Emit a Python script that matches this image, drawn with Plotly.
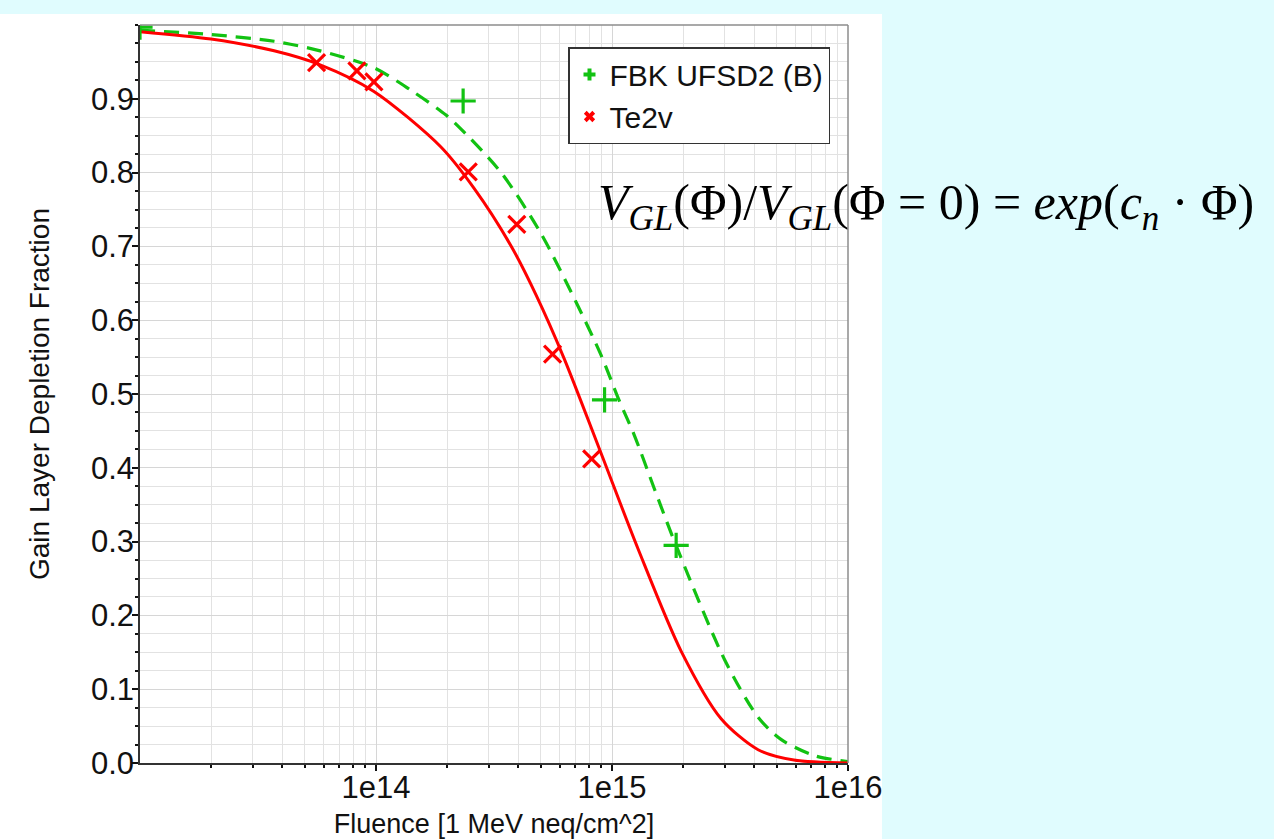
import plotly.graph_objects as go

# ---- data ----
fbk_x = [1e13, 2.34e14, 9.3e14, 1.87e15]
fbk_y = [0.997, 0.897, 0.492, 0.295]

te2v_x = [5.6e13, 8.3e13, 9.8e13, 2.46e14, 3.95e14, 5.6e14, 8.2e14]
te2v_y = [0.949, 0.938, 0.923, 0.801, 0.730, 0.554, 0.412]

fbk_fit_x = [1e13, 2e13, 3.7e13, 5.8e13, 9.8e13, 1.4e14, 1.98e14, 2.31e14, 3.39e14,
             4.99e14, 7.03e14, 8.98e14, 1.07e15, 1.24e15, 1.51e15, 1.83e15, 3e15,
             4.16e15, 5.2e15, 7.2e15, 1e16]
fbk_fit_y = [0.993, 0.987, 0.978, 0.965, 0.942, 0.912, 0.878, 0.858, 0.800,
             0.718, 0.625, 0.553, 0.492, 0.445, 0.372, 0.302, 0.140,
             0.062, 0.032, 0.010, 0.002]

te2v_fit_x = [1e13, 2e13, 3.7e13, 5.8e13, 9.8e13, 1.88e14, 2.6e14, 3.73e14, 4.77e14,
              6.27e14, 8.98e14, 1.29e15, 1.96e15, 2.9e15, 4.16e15, 5.9e15, 1e16]
te2v_fit_y = [0.991, 0.981, 0.965, 0.946, 0.910, 0.835, 0.779, 0.701, 0.634,
              0.548, 0.420, 0.290, 0.152, 0.060, 0.018, 0.004, 0.0]

y_tick_vals = [0.0, 0.1, 0.2, 0.3, 0.4, 0.5, 0.6, 0.7, 0.8, 0.9]
y_tick_text = ["0.0", "0.1", "0.2", "0.3", "0.4", "0.5", "0.6", "0.7", "0.8", "0.9"]
x_tick_vals = [1e14, 1e15, 1e16]
x_tick_text = ["1e14", "1e15", "1e16"]
x_minor_vals = [m * 10.0 ** e for e in (13, 14, 15) for m in range(2, 10)]

GREEN = "#12c212"
RED = "#ff0000"
FONT = "Liberation Sans, Arial, sans-serif"

# ---- figure ----
W, H = 1274, 839
L, R, T, B = 140, 426, 25, 76
pw, ph = W - L - R, H - T - B

fig = go.Figure()

fig.add_trace(go.Scatter(x=fbk_fit_x, y=fbk_fit_y, mode="lines",
                         line=dict(color=GREEN, width=3.2, dash="15px,9px",
                                   shape="spline", smoothing=0.8),
                         showlegend=False, hoverinfo="skip"))
fig.add_trace(go.Scatter(x=te2v_fit_x, y=te2v_fit_y, mode="lines",
                         line=dict(color=RED, width=3, shape="spline", smoothing=0.8),
                         showlegend=False, hoverinfo="skip"))
fig.add_trace(go.Scatter(x=fbk_x, y=fbk_y, mode="markers",
                         marker=dict(symbol="cross-thin", size=18,
                                     line=dict(color=GREEN, width=3.2)),
                         showlegend=False, name="FBK UFSD2 (B)"))
fig.add_trace(go.Scatter(x=te2v_x, y=te2v_y, mode="markers",
                         marker=dict(symbol="x-thin", size=17,
                                     line=dict(color=RED, width=3.2)),
                         showlegend=False, name="Te2v"))
# legend entries
fig.add_trace(go.Scatter(x=[None], y=[None], mode="markers", name="FBK UFSD2 (B)",
                         marker=dict(symbol="cross", size=10, color=GREEN)))
fig.add_trace(go.Scatter(x=[None], y=[None], mode="markers", name="Te2v",
                         marker=dict(symbol="x", size=10, color=RED)))

axis_common = dict(
    showline=True, linecolor="#333333", linewidth=1.5,
    ticks="outside", tickcolor="#111111", tickwidth=1.5, ticklen=6,
    gridcolor="#d6d6d6", gridwidth=1, zeroline=False,
    tickfont=dict(family=FONT, size=31, color="#111111"),
)

fig.update_layout(
    width=W, height=H,
    margin=dict(l=L, r=R, t=T, b=B, autoexpand=False),
    paper_bgcolor="#e0fcfe",
    plot_bgcolor="#ffffff",
    font=dict(family=FONT, color="#111111"),
    xaxis=dict(
        type="log", range=[13, 16],
        tickvals=x_tick_vals, ticktext=x_tick_text,
        ticklabelstandoff=-10,
        minor=dict(tickvals=x_minor_vals, ticks="outside", ticklen=3,
                   tickcolor="#111111", tickwidth=1.5,
                   showgrid=True, gridcolor="#e2e2e2", gridwidth=1),
        title=dict(text="Fluence [1 MeV neq/cm^2]", standoff=11,
                   font=dict(family=FONT, size=27, color="#111111")),
        **axis_common,
    ),
    yaxis=dict(
        range=[0, 1.0],
        tickvals=y_tick_vals, ticktext=y_tick_text,
        ticklabelstandoff=-8,
        minor=dict(dtick=0.025, ticks="outside", ticklen=3,
                   tickcolor="#111111", tickwidth=1.5,
                   showgrid=True, gridcolor="#e2e2e2", gridwidth=1),
        title=dict(text="Gain Layer Depletion Fraction", standoff=33,
                   font=dict(family=FONT, size=28, color="#111111")),
        **axis_common,
    ),
    legend=dict(
        x=(568 - L) / pw, y=(H - B - 47) / ph, xanchor="left", yanchor="top",
        bgcolor="#ffffff", bordercolor="#333333", borderwidth=1.5,
        font=dict(family=FONT, size=30, color="#111111"),
        itemwidth=30, tracegroupgap=0,
    ),
    showlegend=True,
)

# white panel behind the chart
fig.add_shape(type="rect", xref="paper", yref="paper", layer="below",
              x0=-L / pw, x1=(882 - L) / pw, y0=-B / ph, y1=(H - B - 14) / ph,
              fillcolor="#ffffff", line=dict(width=0))
# grey top and right frame
fig.add_shape(type="line", xref="paper", yref="paper", x0=0, x1=1, y0=1, y1=1,
              line=dict(color="#8c8c8c", width=1.5))
fig.add_shape(type="line", xref="paper", yref="paper", x0=1, x1=1, y0=0, y1=1,
              line=dict(color="#8c8c8c", width=1.5))

# equation
fig.add_annotation(
    xref="paper", yref="paper", x=(596 - L) / pw, y=(H - B - 206) / ph,
    xanchor="left", yanchor="middle", showarrow=False,
    text="<i>V</i><sub><i>GL</i></sub>(Φ)/<i>V</i><sub><i>GL</i></sub>(Φ = 0) = "
         "<i>exp</i>(<i>c</i><sub><i>n</i></sub> · Φ)",
    font=dict(family="Liberation Serif, Times New Roman, serif", size=50, color="#000000"),
)

fig.write_html("out.html")
